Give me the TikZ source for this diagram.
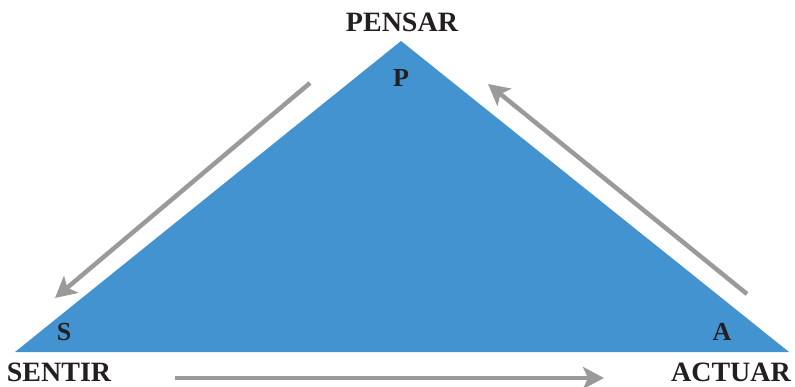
\documentclass[tikz,border=0pt]{standalone}
\usepackage{fontspec}
\setmainfont{Liberation Serif}
\usetikzlibrary{arrows.meta}
\definecolor{triblue}{HTML}{4393D0}
\definecolor{arrgray}{HTML}{9A9A9C}
\definecolor{txt}{HTML}{231F20}
\begin{document}
\begin{tikzpicture}[x=1pt,y=-1pt,
  lbl/.style={font=\bfseries\fontsize{28}{28}\selectfont, text=txt, inner sep=0pt},
  small/.style={font=\bfseries\fontsize{26}{26}\selectfont, text=txt, inner sep=0pt},
  cyc/.style={draw=arrgray, line width=4.5pt, -{Stealth[length=21pt,width=22pt,inset=5pt]}}]
\useasboundingbox (0,0) rectangle (795,387);
\coordinate (L) at (15,352);
\coordinate (T) at (401,41);
\coordinate (R) at (789,352);
\fill[triblue] (L) -- (T) -- (R) -- cycle;
\node[lbl] (pensar) at (402,22) {PENSAR};
\node[small] (p) at (401,78) {P};
\node[small] (s) at (64,332) {S};
\node[small] (a) at (722,332) {A};
\node[lbl] (sentir) at (59,372) {SENTIR};
\node[lbl] (actuar) at (731,372) {ACTUAR};
\coordinate (a1s) at (310,83);
\coordinate (a1e) at (55,298);
\coordinate (a2s) at (747,294);
\coordinate (a2e) at (488,84);
\coordinate (a3s) at (175,378);
\coordinate (a3e) at (604,378);
\draw[cyc] (a1s) -- (a1e);
\draw[cyc] (a2s) -- (a2e);
\draw[cyc] (a3s) -- (a3e);
\end{tikzpicture}
\end{document}
